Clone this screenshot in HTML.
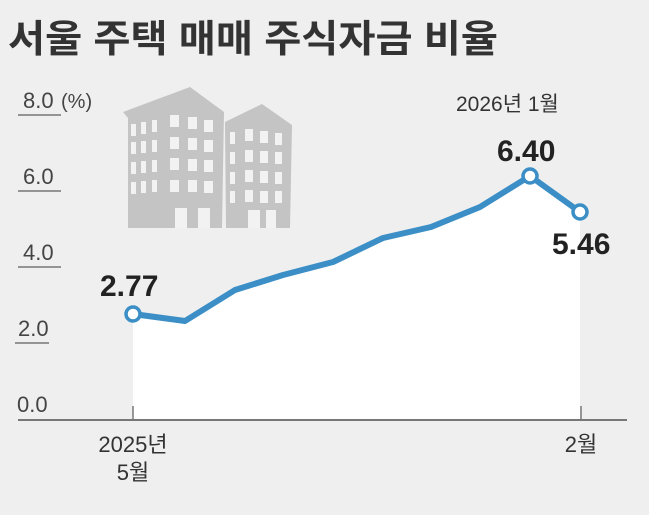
<!DOCTYPE html>
<html><head><meta charset="utf-8"><style>
body{margin:0;width:649px;height:510px;background:#efefef;overflow:hidden;font-family:"Liberation Sans","Noto Sans CJK KR",sans-serif}
</style></head><body>
<svg width="649" height="510" viewBox="0 0 649 510" xmlns="http://www.w3.org/2000/svg" font-family="Liberation Sans, Noto Sans CJK KR, sans-serif">
<rect width="649" height="510" fill="#efefef"/>
<text x="8" y="52" font-size="38" font-weight="bold" fill="#333" textLength="490" lengthAdjust="spacingAndGlyphs">서울 주택 매매 주식자금 비율</text>
<g fill="#c4c4c4">
<polygon points="123,112 190,87 224,112 222,228 128,228 128,118"/>
<polygon points="225,122 262,104 292,125 290,228 226,228"/>
</g>
<g fill="#f2f2f2">
<rect x="131" y="124" width="5" height="12"/><rect x="141" y="122" width="5" height="12"/><rect x="152" y="120" width="5" height="12"/>
<rect x="131" y="142" width="5" height="12"/><rect x="141" y="141" width="5" height="12"/><rect x="152" y="140" width="5" height="12"/>
<rect x="131" y="162" width="5" height="12"/><rect x="141" y="161" width="5" height="12"/><rect x="152" y="160" width="5" height="12"/>
<rect x="131" y="182" width="5" height="12"/><rect x="141" y="181" width="5" height="12"/><rect x="152" y="180" width="5" height="12"/>
<rect x="170" y="115" width="9" height="12"/><rect x="188" y="117" width="9" height="12"/><rect x="204" y="120" width="9" height="12"/>
<rect x="170" y="137" width="9" height="12"/><rect x="188" y="138" width="9" height="12"/><rect x="204" y="140" width="9" height="12"/>
<rect x="170" y="158" width="9" height="12"/><rect x="188" y="159" width="9" height="12"/><rect x="204" y="160" width="9" height="12"/>
<rect x="170" y="180" width="9" height="12"/><rect x="188" y="180" width="9" height="12"/><rect x="204" y="181" width="9" height="12"/>
<rect x="175" y="208" width="12" height="20"/><rect x="198" y="208" width="12" height="20"/>
<rect x="230" y="132" width="5" height="12"/><rect x="245" y="129" width="8" height="12"/><rect x="260" y="131" width="8" height="12"/><rect x="275" y="133" width="7" height="12"/>
<rect x="230" y="152" width="5" height="12"/><rect x="245" y="150" width="8" height="12"/><rect x="260" y="151" width="8" height="12"/><rect x="275" y="152" width="7" height="12"/>
<rect x="230" y="172" width="5" height="12"/><rect x="245" y="170" width="8" height="12"/><rect x="260" y="171" width="8" height="12"/><rect x="275" y="172" width="7" height="12"/>
<rect x="230" y="191" width="5" height="12"/><rect x="245" y="190" width="8" height="12"/><rect x="260" y="191" width="8" height="12"/><rect x="275" y="191" width="7" height="12"/>
<rect x="248" y="210" width="12" height="18"/><rect x="266" y="210" width="10" height="18"/>
</g>
<g font-size="22" fill="#444">
<text x="23" y="108">8.0</text><text x="61" y="108" font-size="20">(%)</text>
<text x="23" y="184">6.0</text>
<text x="23" y="260">4.0</text>
<text x="18" y="336">2.0</text>
<text x="17" y="412">0.0</text>
</g>
<g stroke="#777" stroke-width="1.5">
<line x1="18" y1="115" x2="61" y2="115"/><line x1="18" y1="191" x2="61" y2="191"/>
<line x1="18" y1="267" x2="61" y2="267"/><line x1="15" y1="343" x2="49" y2="343"/>
</g>
<polygon fill="#ffffff" points="133,314 185,321 235,290 283,275 333,262 383,238 431,227 480,207 530,176 580,212 580,420 133,420"/>
<line x1="18" y1="420" x2="627" y2="420" stroke="#777" stroke-width="2"/>
<line x1="133" y1="406" x2="133" y2="420" stroke="#777" stroke-width="1.5"/>
<line x1="581" y1="406" x2="581" y2="420" stroke="#777" stroke-width="1.5"/>
<polyline fill="none" stroke="#3b8fc6" stroke-width="6" stroke-linejoin="round" points="133,314 185,321 235,290 283,275 333,262 383,238 431,227 480,207 530,176 580,212"/>
<g fill="#fff" stroke="#3b8fc6" stroke-width="3.5">
<circle cx="133" cy="314" r="7"/><circle cx="530" cy="176" r="7"/><circle cx="580" cy="212" r="7"/>
</g>
<g font-size="30" font-weight="bold" fill="#222">
<text x="100" y="296">2.77</text>
<text x="497" y="161">6.40</text>
<text x="552" y="254">5.46</text>
</g>
<text x="456" y="111" font-size="21" fill="#333">2026년 1월</text>
<g font-size="22" fill="#333" text-anchor="middle">
<text x="133" y="452">2025년</text>
<text x="133" y="480">5월</text>
<text x="581" y="452">2월</text>
</g>
</svg>
</body></html>
